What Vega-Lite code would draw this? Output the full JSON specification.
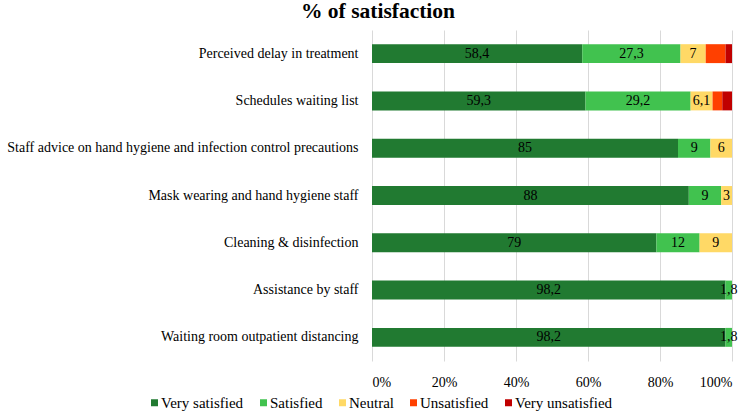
{
  "$schema": "https://vega.github.io/schema/vega-lite/v6.json",
  "autosize": "none",
  "width": 360,
  "height": 331,
  "padding": {"left": 372, "top": 30, "right": 17, "bottom": 50},
  "background": "white",
  "config": {
    "locale": {"number": {"decimal": ",", "thousands": ".", "grouping": [3], "currency": ["", " €"]}},
    "font": "Liberation Serif",
    "view": {"stroke": null}
  },
  "title": {"text": "% of satisfaction", "font": "Liberation Serif", "fontSize": 21.5, "fontWeight": "bold", "color": "#000000", "anchor": "middle", "dx": -174, "offset": 8},
  "data": {"values": [
    {"item": "Perceived delay in treatment", "level": "Very satisfied", "k": 0, "value": 58.4},
    {"item": "Perceived delay in treatment", "level": "Satisfied", "k": 1, "value": 27.3},
    {"item": "Perceived delay in treatment", "level": "Neutral", "k": 2, "value": 7},
    {"item": "Perceived delay in treatment", "level": "Unsatisfied", "k": 3, "value": 5.5},
    {"item": "Perceived delay in treatment", "level": "Very unsatisfied", "k": 4, "value": 1.8},
    {"item": "Schedules waiting list", "level": "Very satisfied", "k": 0, "value": 59.3},
    {"item": "Schedules waiting list", "level": "Satisfied", "k": 1, "value": 29.2},
    {"item": "Schedules waiting list", "level": "Neutral", "k": 2, "value": 6.1},
    {"item": "Schedules waiting list", "level": "Unsatisfied", "k": 3, "value": 2.7},
    {"item": "Schedules waiting list", "level": "Very unsatisfied", "k": 4, "value": 2.7},
    {"item": "Staff advice on hand hygiene and infection control precautions", "level": "Very satisfied", "k": 0, "value": 85},
    {"item": "Staff advice on hand hygiene and infection control precautions", "level": "Satisfied", "k": 1, "value": 9},
    {"item": "Staff advice on hand hygiene and infection control precautions", "level": "Neutral", "k": 2, "value": 6},
    {"item": "Mask wearing and hand hygiene staff", "level": "Very satisfied", "k": 0, "value": 88},
    {"item": "Mask wearing and hand hygiene staff", "level": "Satisfied", "k": 1, "value": 9},
    {"item": "Mask wearing and hand hygiene staff", "level": "Neutral", "k": 2, "value": 3},
    {"item": "Cleaning & disinfection", "level": "Very satisfied", "k": 0, "value": 79},
    {"item": "Cleaning & disinfection", "level": "Satisfied", "k": 1, "value": 12},
    {"item": "Cleaning & disinfection", "level": "Neutral", "k": 2, "value": 9},
    {"item": "Assistance by staff", "level": "Very satisfied", "k": 0, "value": 98.2},
    {"item": "Assistance by staff", "level": "Satisfied", "k": 1, "value": 1.8},
    {"item": "Waiting room outpatient distancing", "level": "Very satisfied", "k": 0, "value": 98.2},
    {"item": "Waiting room outpatient distancing", "level": "Satisfied", "k": 1, "value": 1.8}
  ]},
  "encoding": {
    "y": {
      "field": "item", "type": "nominal", "title": null,
      "sort": ["Perceived delay in treatment", "Schedules waiting list", "Staff advice on hand hygiene and infection control precautions", "Mask wearing and hand hygiene staff", "Cleaning & disinfection", "Assistance by staff", "Waiting room outpatient distancing"],
      "scale": {"paddingInner": 0.6, "paddingOuter": 0.3},
      "axis": {"domain": false, "ticks": false, "labelFont": "Liberation Serif", "labelFontSize": 14, "labelColor": "#000000", "labelPadding": 14, "labelLimit": 400}
    },
    "order": {"field": "k", "type": "quantitative", "sort": "ascending"}
  },
  "layer": [
    {
      "mark": {"type": "bar"},
      "encoding": {
        "x": {"field": "value", "type": "quantitative", "stack": "zero", "scale": {"domain": [0, 100]}, "title": null,
          "axis": {"values": [0, 20, 40, 60, 80, 100], "labelExpr": "datum.value + '%'", "domain": false, "ticks": false, "grid": true, "gridColor": "#d9d9d9", "gridWidth": 1, "labelFont": "Liberation Serif", "labelFontSize": 14, "labelColor": "#000000", "labelPadding": 14}},
        "color": {
          "field": "level", "type": "nominal",
          "scale": {"domain": ["Very satisfied", "Satisfied", "Neutral", "Unsatisfied", "Very unsatisfied"], "range": ["#217a31", "#41c24f", "#ffd966", "#ff4000", "#c00000"]},
          "legend": {"title": null, "orient": "none", "legendX": -225, "legendY": 365, "direction": "horizontal", "columns": 5, "symbolType": "square", "symbolSize": 49, "symbolStrokeWidth": 0, "labelFont": "Liberation Serif", "labelFontSize": 15, "labelColor": "#000000", "columnPadding": 12, "labelOffset": -1, "labelLimit": 200}
        }
      }
    },
    {
      "transform": [{"filter": "datum.k <= 2"}],
      "mark": {"type": "text", "font": "Liberation Serif", "fontSize": 14, "color": "#000000", "align": "center", "baseline": "middle"},
      "encoding": {
        "x": {"field": "value", "type": "quantitative", "stack": "zero", "bandPosition": 0.5},
        "text": {"field": "value", "type": "quantitative", "format": ".1~f"}
      }
    }
  ]
}
